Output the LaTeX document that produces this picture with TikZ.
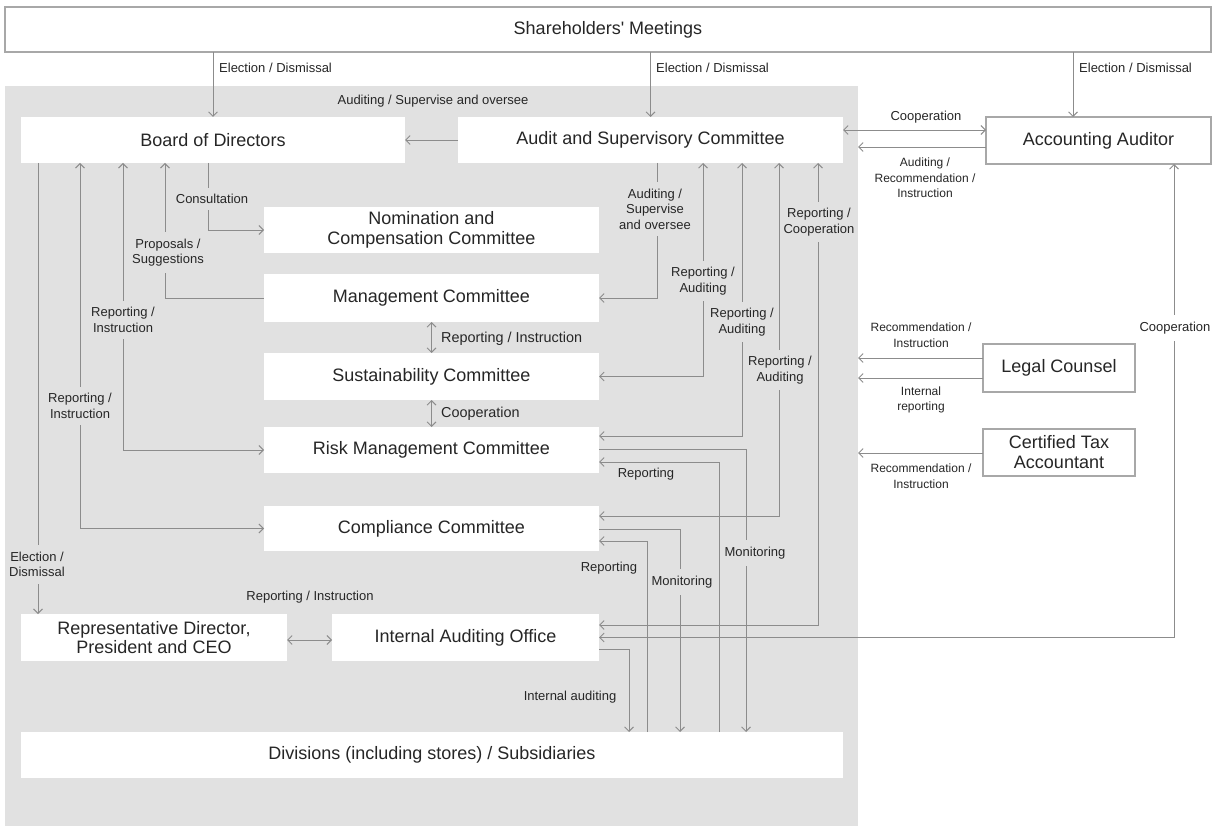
\documentclass[tikz,border=0pt]{standalone}
\usepackage{fontspec}
\setmainfont{Liberation Sans}
\usetikzlibrary{arrows.meta}
\definecolor{bgcol}{HTML}{E1E1E1}
\definecolor{lncol}{HTML}{8C8C8C}
\definecolor{txcol}{HTML}{262626}
\definecolor{olcol}{HTML}{A8A8A8}
\begin{document}
\begin{tikzpicture}[x=1pt,y=-1pt,
  every node/.style={text=txcol},
  wbox/.style={fill=white, inner sep=0pt, outer sep=0pt, align=center, font=\fontsize{18}{20.5}\selectfont},
  obox/.style={wbox, draw=olcol, line width=1.2pt},
  conn/.style={draw=lncol, line width=0.9pt},
  lbl/.style={font=\fontsize{13}{15.5}\selectfont, align=center, inner sep=1pt},
  slbl/.style={font=\fontsize{12}{15.5}\selectfont, align=center, inner sep=1pt},
  mlbl/.style={font=\fontsize{14.4}{16}\selectfont, inner sep=1pt},
  glbl/.style={lbl, fill=bgcol, inner xsep=1pt, inner ysep=6.5pt},
  wlbl/.style={lbl, fill=white, inner xsep=1pt, inner ysep=6.5pt},
  >={Straight Barb[length=4.5pt,width=9pt]}
]
\useasboundingbox (0,0) rectangle (1216,826);
% corporate region
\node[fill=bgcol, minimum width=853pt, minimum height=740pt, inner sep=0pt, outer sep=0pt, anchor=north west] (corp) at (5,86) {};

% boxes
\node[obox, minimum width=1206pt, minimum height=45pt] (sh) at (608,29.5) {Shareholders\textquotesingle\ Meetings};
\node[wbox, minimum width=384pt, minimum height=46pt] (board) at (213,140) {Board of Directors};
\node[wbox, minimum width=385pt, minimum height=46pt] (audit) at (650.5,140) {Audit and Supervisory Committee};
\node[obox, minimum width=225pt, minimum height=47pt] (aa) at (1098.5,140.5) {Accounting Auditor};
\node[wbox, minimum width=335pt, minimum height=46pt] (nom) at (431.5,230) {Nomination and\\Compensation Committee};
\node[wbox, minimum width=335pt, minimum height=48pt] (mgmt) at (431.5,298) {Management Committee};
\node[wbox, minimum width=335pt, minimum height=47pt] (sust) at (431.5,376.5) {Sustainability Committee};
\node[wbox, minimum width=335pt, minimum height=46pt] (risk) at (431.5,450) {Risk Management Committee};
\node[wbox, minimum width=335pt, minimum height=45pt] (comp) at (431.5,528.5) {Compliance Committee};
\node[wbox, minimum width=266pt, minimum height=47pt, font=\fontsize{18}{19.5}\selectfont] (rep) at (154,637.5) {Representative Director,\\President and CEO};
\node[wbox, minimum width=267pt, minimum height=47pt] (iao) at (465.5,637.5) {Internal Auditing Office};
\node[wbox, minimum width=822pt, minimum height=46pt] (div) at (432,755) {Divisions (including stores) / Subsidiaries};
\node[obox, minimum width=152pt, minimum height=48pt] (legal) at (1059,368) {Legal Counsel};
\node[obox, minimum width=152pt, minimum height=47pt, font=\fontsize{18}{20}\selectfont] (tax) at (1059,452.5) {Certified Tax\\Accountant};

% connectors from shareholders
\draw[conn,->] (sh.south -| board.north) -- (board.north);
\draw[conn,->] (sh.south -| audit.north) -- (audit.north);
\draw[conn,->] (sh.south -| 1073,0) -- (aa.north -| 1073,0);

% audit / accounting auditor
\draw[conn,->] (audit.west) -- (board.east);
\draw[conn,<->] (audit.east |- 0,130) -- (aa.west |- 0,130);
\draw[conn,->] (aa.west |- 0,147) -- (corp.east |- 0,147);
\draw[conn,<->] (aa.south -| 1174,0) |- (iao.east);

% legal / tax
\draw[conn,->] (legal.west |- 0,358) -- (corp.east |- 0,358);
\draw[conn,->] (legal.west |- 0,378) -- (corp.east |- 0,378);
\draw[conn,->] (tax.west |- 0,453) -- (corp.east |- 0,453);

% board of directors connectors
\draw[conn,->] (board.south -| 38,0) -- (rep.north -| 38,0);
\draw[conn,<->] (board.south -| 80,0) |- (comp.west);
\draw[conn,<->] (board.south -| 123,0) |- (risk.west);
\draw[conn,<-] (board.south -| 165,0) |- (mgmt.west);
\draw[conn,->] (board.south -| 208,0) |- (nom.west);

% committee chain
\draw[conn,<->] (mgmt.south) -- (sust.north);
\draw[conn,<->] (sust.south) -- (risk.north);
\draw[conn,<->] (rep.east |- 0,640) -- (iao.west |- 0,640);

% audit committee connectors
\draw[conn,->] (audit.south -| 657,0) |- (mgmt.east);
\draw[conn,<->] (sust.east) -| (audit.south -| 703,0);
\draw[conn,<->] (risk.east |- 0,436) -| (audit.south -| 742,0);
\draw[conn,<->] (comp.east |- 0,516) -| (audit.south -| 779,0);
\draw[conn,<->] (iao.east |- 0,625) -| (audit.south -| 818,0);

% to divisions
\draw[conn,->] (risk.east |- 0,449) -| (div.north -| 746,0);
\draw[conn,->] (div.north -| 719,0) |- (risk.east |- 0,462);
\draw[conn,->] (comp.east |- 0,529) -| (div.north -| 680,0);
\draw[conn,->] (div.north -| 647,0) |- (comp.east |- 0,541);
\draw[conn,->] (iao.east |- 0,649) -| (div.north -| 629,0);

% labels
\node[lbl, anchor=west] (led1) at (218,68) {Election / Dismissal};
\node[lbl, anchor=west] (led2) at (655,68) {Election / Dismissal};
\node[lbl, anchor=west] (led3) at (1078,68) {Election / Dismissal};
\node[lbl] (laso) at (433,101) {Auditing / Supervise and oversee};
\node[lbl] (lcoop1) at (926,117) {Cooperation};
\node[slbl] (larec) at (925,178) {Auditing /\\Recommendation /\\Instruction};
\node[glbl] (lcons) at (212,199) {Consultation};
\node[glbl] (lprop) at (168,252.5) {Proposals /\\Suggestions};
\node[glbl] (lri1) at (123,320) {Reporting /\\Instruction};
\node[glbl] (lri2) at (80,406) {Reporting /\\Instruction};
\node[glbl] (led4) at (37,564.5) {Election /\\Dismissal};
\node[mlbl, anchor=west] (lri3) at (440,339) {Reporting / Instruction};
\node[mlbl, anchor=west] (lcoop2) at (440,414) {Cooperation};
\node[lbl] (lriB) at (310,597) {Reporting / Instruction};
\node[lbl] (lia) at (570,697) {Internal auditing};
\node[lbl] (lrep1) at (646,474) {Reporting};
\node[lbl] (lrep2) at (609,568) {Reporting};
\node[glbl] (lmon1) at (755,553) {Monitoring};
\node[glbl] (lmon2) at (682,582) {Monitoring};
\node[glbl] (laso2) at (655,209) {Auditing /\\Supervise\\and oversee};
\node[glbl] (lra1) at (703,281) {Reporting /\\Auditing};
\node[glbl] (lra2) at (742,322) {Reporting /\\Auditing};
\node[glbl] (lra3) at (780,370) {Reporting /\\Auditing};
\node[glbl] (lrc) at (819,222) {Reporting /\\Cooperation};
\node[slbl] (lrec1) at (921,335) {Recommendation /\\Instruction};
\node[slbl] (lir) at (921,400) {Internal\\reporting};
\node[slbl] (lrec2) at (921,476) {Recommendation /\\Instruction};
\node[wlbl] (lcoop3) at (1175,328) {Cooperation};
\end{tikzpicture}
\end{document}
